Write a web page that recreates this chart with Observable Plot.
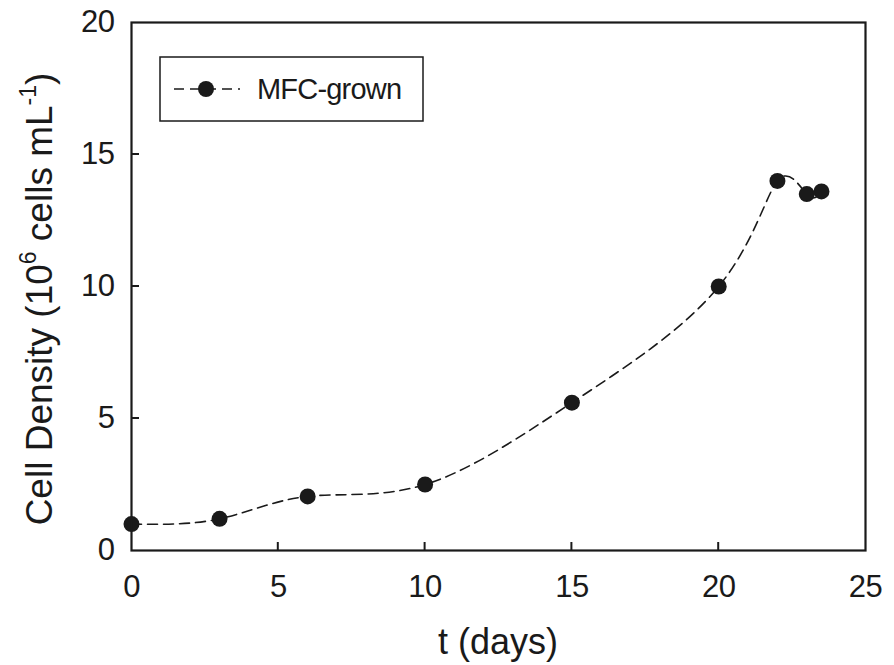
<!DOCTYPE html>
<html>
<head>
<meta charset="utf-8">
<script src="https://cdn.jsdelivr.net/npm/d3@7"></script>
<script src="https://cdn.jsdelivr.net/npm/@observablehq/plot@0.6"></script>
<style>
  html, body { margin: 0; padding: 0; background: #fff; }
  #chart svg { display: block; }
</style>
</head>
<body>
<div id="chart"></div>
<script>
// Data
const days = [0, 3, 6, 10, 15, 20, 22, 23, 23.5];
const density = [1.0, 1.2, 2.05, 2.5, 5.6, 10.0, 14.0, 13.5, 13.6];
const seriesName = "MFC-grown";
const xTitle = "t (days)";
const xTicks = [0, 5, 10, 15, 20, 25];
const yTicks = [0, 5, 10, 15, 20];
const xInnerTicks = [5, 10, 15, 20];
const yInnerTicks = [5, 10, 15];

const data = days.map((d, i) => ({t: d, v: density[i]}));

const W = 894, H = 665;
const mL = 131, mR = 29, mT = 22, mB = 115;
const font = "'Liberation Sans', Arial, Helvetica, sans-serif";
const ink = "#1a1a1a";
const tickLen = 8;

const chart = Plot.plot({
  width: W,
  height: H,
  marginLeft: mL,
  marginRight: mR,
  marginTop: mT,
  marginBottom: mB,
  style: {fontFamily: font, color: ink, background: "#fff"},
  x: {domain: [0, 25], label: null},
  y: {domain: [0, 20], label: null},
  marks: [
    Plot.axisX({ticks: xTicks, tickSize: 0, tickPadding: 24, fontSize: 31, label: null}),
    Plot.axisY({ticks: yTicks, tickSize: 0, tickPadding: 17, fontSize: 31, label: null}),
    Plot.line(data, {x: "t", y: "v", curve: "natural", stroke: ink, strokeWidth: 1.6, strokeDasharray: "10,6"}),
    Plot.dot(data, {x: "t", y: "v", r: 8, fill: ink, stroke: "none"}),
    Plot.frame({stroke: ink, strokeWidth: 2.2})
  ]
});

document.getElementById("chart").appendChild(chart);
const svg = d3.select(chart);
const xs = chart.scale("x"), ys = chart.scale("y");

// enforce tick-label font size
svg.selectAll("g[aria-label='x-axis tick label'], g[aria-label='y-axis tick label']")
  .attr("font-size", 31).attr("letter-spacing", -0.5);

// inward ticks
const tg = svg.append("g").attr("stroke", ink).attr("stroke-width", 2);
xInnerTicks.forEach(t => {
  const x = xs.apply(t), y0 = ys.apply(0);
  tg.append("line").attr("x1", x).attr("x2", x).attr("y1", y0).attr("y2", y0 - tickLen);
});
yInnerTicks.forEach(t => {
  const y = ys.apply(t), x0 = xs.apply(0);
  tg.append("line").attr("x1", x0).attr("x2", x0 + tickLen).attr("y1", y).attr("y2", y);
});

// X axis title
svg.append("text")
  .attr("x", 498)
  .attr("y", 654)
  .attr("text-anchor", "middle")
  .attr("font-family", font)
  .attr("font-size", 36)
  .attr("fill", ink)
  .text(xTitle);

// Y axis title with superscripts
const yt = svg.append("text")
  .attr("transform", `translate(52,299) rotate(-90)`)
  .attr("text-anchor", "middle")
  .attr("font-family", font)
  .attr("font-size", 37)
  .attr("fill", ink);
yt.append("tspan").text("Cell Density (10");
yt.append("tspan").attr("dy", -16).attr("font-size", 23).text("6");
yt.append("tspan").attr("dy", 16).text(" cells mL");
yt.append("tspan").attr("dy", -16).attr("font-size", 23).text("-1");
yt.append("tspan").attr("dy", 16).text(")");

// Legend box
const lg = svg.append("g").attr("text-anchor", "start");
lg.append("rect").attr("x", 160).attr("y", 57).attr("width", 263).attr("height", 64)
  .attr("fill", "#fff").attr("stroke", ink).attr("stroke-width", 1.5);
lg.append("line").attr("x1", 174).attr("x2", 240).attr("y1", 89).attr("y2", 89)
  .attr("stroke", ink).attr("stroke-width", 1.6).attr("stroke-dasharray", "10,6");
lg.append("circle").attr("cx", 206).attr("cy", 89).attr("r", 8).attr("fill", ink);
lg.append("text").attr("x", 257).attr("y", 89).attr("dy", "0.36em")
  .attr("font-family", font).attr("font-size", 29).attr("letter-spacing", -0.8)
  .attr("fill", ink).text(seriesName);
</script>
</body>
</html>
